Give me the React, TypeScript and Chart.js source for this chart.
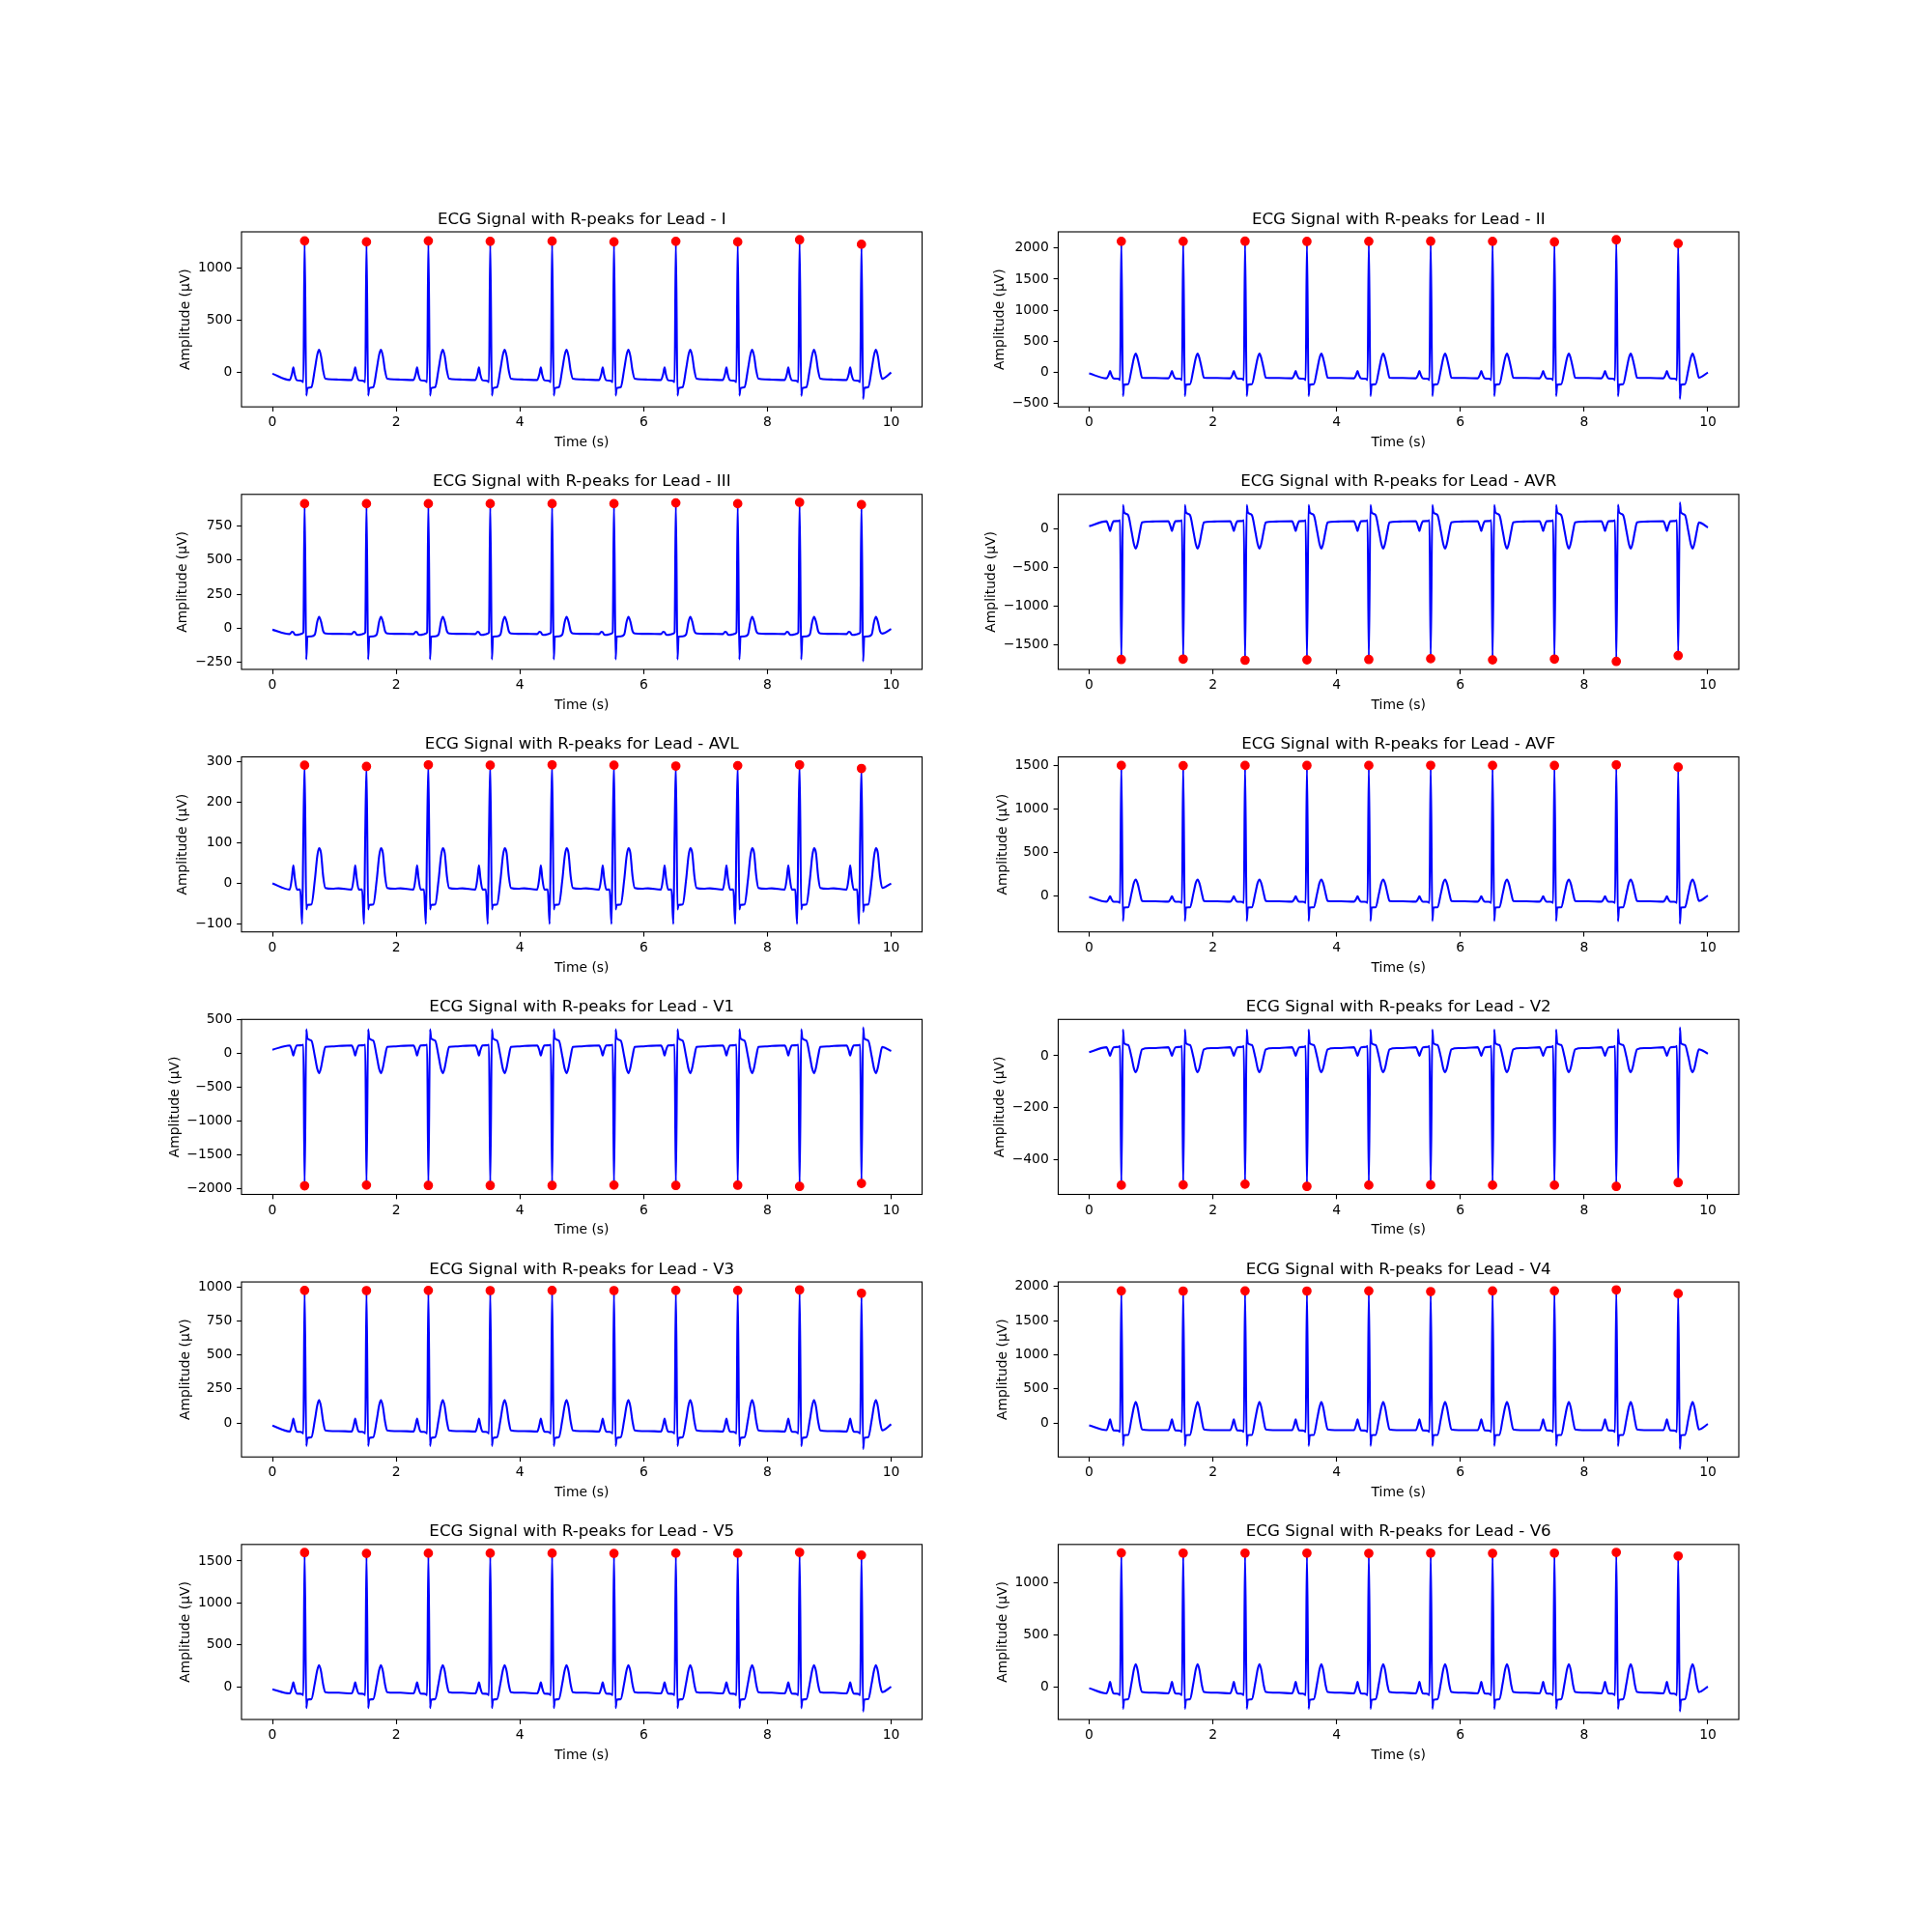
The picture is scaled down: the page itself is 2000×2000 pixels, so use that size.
import React, { useEffect, useRef } from 'react';
import { Chart, registerables } from 'chart.js';

Chart.register(...registerables);

// ---------------- data ----------------
const LEAD_NAMES = ['I', 'II', 'III', 'AVR', 'AVL', 'AVF', 'V1', 'V2', 'V3', 'V4', 'V5', 'V6'];

// R-peak times (s)
const R_TIMES = [0.52, 1.52, 2.52, 3.52, 4.52, 5.52, 6.52, 7.52, 8.52, 9.52];

// key points of one beat, time offsets relative to the R peak (s)
const BEAT_OFFSETS = [-0.45, -0.24, -0.205, -0.182, -0.16, -0.125, -0.07, -0.04, -0.02, 0, 0.027, 0.045, 0.11, 0.165, 0.205, 0.234, 0.265, 0.3, 0.335, 0.45];
const R_INDEX = 9;
const S_INDEX = 10;

// beat shape per lead (µV) at BEAT_OFFSETS; R and S slots come from R_PEAKS / S_WAVES
const BEAT_I = [-68, -72, -15, 48, -20, -74, -78, -82, -92, 0, 0, -150, -140, 30, 170, 217, 156, 17, -60, -66];
const BEAT_II = [-95, -100, -45, 19, -45, -102, -105, -110, -127, 0, 0, -204, -195, 40, 234, 299, 215, 60, -90, -95];
const BEAT_III = [-40, -42, -25, -28, -45, -48, -42, -38, -30, 0, 0, -60, -58, -45, 50, 84, 50, -20, -38, -40];
const BEAT_AVR = [93, 95, 30, -31, 30, 95, 98, 100, 110, 0, 0, 211, 175, -35, -202, -257, -185, -38, 80, 90];
const BEAT_AVL = [-12, -15, 15, 45, 15, -15, -15, -100, 120, 0, 0, -53, -52, 8, 68, 87, 75, 18, -11, -13];
const BEAT_AVF = [-66, -70, -40, -8, -40, -72, -72, -75, -85, 0, 0, -139, -135, 25, 150, 186, 137, 30, -62, -66];
const BEAT_V1 = [110, 118, 45, -30, 45, 118, 120, 122, 130, 0, 0, 223, 190, -40, -230, -292, -210, -40, 95, 105];
const BEAT_V2 = [30, 33, 15, -1, 15, 33, 34, 35, 38, 0, 0, 49, 42, -5, -50, -63, -45, -5, 25, 30];
const BEAT_V3 = [-60, -63, -15, 32, -15, -64, -66, -70, -78, 0, 0, -111, -105, 20, 130, 168, 120, 10, -55, -60];
const BEAT_V4 = [-104, -106, -25, 55, -25, -108, -110, -115, -130, 0, 0, -181, -175, 60, 240, 309, 220, 40, -95, -104];
const BEAT_V5 = [-72, -80, -15, 52, -15, -82, -84, -88, -100, 0, 0, -155, -148, 40, 200, 256, 185, 25, -65, -72];
const BEAT_V6 = [-58, -65, -10, 46, -10, -66, -68, -72, -82, 0, 0, -128, -122, 35, 170, 217, 155, 20, -52, -58];
const BEAT_SHAPES = [BEAT_I, BEAT_II, BEAT_III, BEAT_AVR, BEAT_AVL, BEAT_AVF, BEAT_V1, BEAT_V2, BEAT_V3, BEAT_V4, BEAT_V5, BEAT_V6];

// R-peak amplitudes per beat (µV) — the red dots
const R_I = [1255, 1245, 1255, 1250, 1252, 1245, 1250, 1245, 1265, 1222];
const R_II = [2110, 2110, 2112, 2108, 2110, 2112, 2110, 2100, 2135, 2075];
const R_III = [912, 912, 912, 912, 912, 912, 918, 912, 922, 905];
const R_AVR = [-1690, -1685, -1700, -1695, -1690, -1680, -1695, -1685, -1715, -1640];
const R_AVL = [292, 289, 293, 292, 293, 292, 290, 291, 293, 284];
const R_AVF = [1505, 1503, 1505, 1504, 1505, 1506, 1505, 1504, 1512, 1485];
const R_V1 = [-1960, -1950, -1955, -1955, -1955, -1950, -1955, -1952, -1970, -1925];
const R_V2 = [-500, -499, -496, -505, -500, -499, -500, -500, -505, -490];
const R_V3 = [976, 975, 976, 975, 976, 975, 976, 976, 980, 955];
const R_V4 = [1935, 1933, 1935, 1933, 1935, 1925, 1935, 1935, 1950, 1895];
const R_V5 = [1600, 1590, 1592, 1592, 1592, 1590, 1592, 1592, 1602, 1570];
const R_V6 = [1290, 1288, 1288, 1288, 1286, 1288, 1286, 1288, 1295, 1260];
const R_PEAKS = [R_I, R_II, R_III, R_AVR, R_AVL, R_AVF, R_V1, R_V2, R_V3, R_V4, R_V5, R_V6];

// S-wave amplitudes per beat (µV)
const S_I = [-220, -220, -220, -220, -220, -220, -220, -220, -222, -252];
const S_II = [-386, -386, -386, -386, -386, -386, -386, -386, -388, -432];
const S_III = [-228, -228, -228, -228, -228, -228, -228, -228, -228, -242];
const S_AVR = [306, 306, 306, 306, 306, 306, 306, 306, 308, 340];
const S_AVL = [-64, -64, -64, -64, -64, -64, -64, -64, -64, -70];
const S_AVF = [-295, -295, -295, -295, -295, -295, -295, -295, -297, -328];
const S_V1 = [356, 356, 356, 356, 356, 356, 356, 356, 358, 386];
const S_V2 = [102, 102, 102, 102, 102, 102, 102, 102, 103, 110];
const S_V3 = [-170, -170, -170, -170, -170, -170, -170, -170, -171, -192];
const S_V4 = [-336, -336, -336, -336, -336, -336, -336, -336, -338, -381];
const S_V5 = [-255, -255, -255, -255, -255, -255, -255, -255, -257, -296];
const S_V6 = [-213, -213, -213, -213, -213, -213, -213, -213, -215, -240];
const S_WAVES = [S_I, S_II, S_III, S_AVR, S_AVL, S_AVF, S_V1, S_V2, S_V3, S_V4, S_V5, S_V6];

// first and last sample values (µV)
const SIGNAL_START = [-12, -20, -10, 30, 0, -15, 55, 14, -20, -35, -30, -15];
const SIGNAL_END = [0, -5, -5, 15, 0, 0, 35, 8, -10, -15, 0, 0];
const T_MIN = 0;
const T_MAX = 10;

// tick labels
const X_TICKS = [0, 2, 4, 6, 8, 10];
const Y_TICKS = [
  [0, 500, 1000],
  [-500, 0, 500, 1000, 1500, 2000],
  [-250, 0, 250, 500, 750],
  [-1500, -1000, -500, 0],
  [-100, 0, 100, 200, 300],
  [0, 500, 1000, 1500],
  [-2000, -1500, -1000, -500, 0, 500],
  [-400, -200, 0],
  [0, 250, 500, 750, 1000],
  [0, 500, 1000, 1500, 2000],
  [0, 500, 1000, 1500],
  [0, 500, 1000],
];

const TITLE_PREFIX = 'ECG Signal with R-peaks for Lead - ';
const X_LABEL = 'Time (s)';
const Y_LABEL = 'Amplitude (\u03bcV)';

// ---------------- layout (matplotlib-like geometry) ----------------
const FIG = 2000;
const AX_LEFTS = [250, 1095.4545];
const AX_W = 704.5455;
const AX_TOP0 = 240;
const AX_H = 181.1765;
const ROW_STEP = 271.7647;
const FONT = 'DejaVu Sans';
const TICK_PX = 13.89;
const TITLE_PX = 16.67;
const TICK_LEN = 4.86;

function fmtTick(v: number): string {
  const r = Math.round(v * 1000) / 1000;
  return r < 0 ? '\u2212' + String(Math.abs(r)) : String(r);
}

function buildSignal(li: number) {
  const pts: { x: number; y: number }[] = [{ x: T_MIN, y: SIGNAL_START[li] }];
  const last = R_TIMES.length - 1;
  R_TIMES.forEach((rt, b) => {
    BEAT_OFFSETS.forEach((off, k) => {
      if ((b === 0 && k === 0) || (b === last && k === BEAT_OFFSETS.length - 1)) return;
      const y = k === R_INDEX ? R_PEAKS[li][b] : k === S_INDEX ? S_WAVES[li][b] : BEAT_SHAPES[li][k];
      pts.push({ x: Math.round((rt + off) * 10000) / 10000, y });
    });
  });
  pts.push({ x: T_MAX, y: SIGNAL_END[li] });
  return pts;
}

const decorPlugin = {
  id: 'decor',
  afterDraw(chart: any, _args: any, opts: any) {
    const { ctx, chartArea: a } = chart;
    ctx.save();
    ctx.strokeStyle = '#000';
    ctx.lineWidth = 1.11;
    ctx.strokeRect(a.left, a.top, a.right - a.left, a.bottom - a.top);
    ctx.fillStyle = '#000';
    const cx = (a.left + a.right) / 2;
    ctx.textAlign = 'center';
    ctx.textBaseline = 'alphabetic';
    ctx.font = `${TITLE_PX}px "${FONT}"`;
    ctx.fillText(opts.title, cx, a.top - 8.33);
    ctx.font = `${TICK_PX}px "${FONT}"`;
    ctx.fillText(X_LABEL, cx, a.bottom + 40.9);
    const ys = chart.scales.y;
    let widest = 0;
    ys.ticks.forEach((t: any) => {
      widest = Math.max(widest, ctx.measureText(String(t.label)).width);
    });
    const right = a.left - TICK_LEN - 4.86 - widest - 5.56;
    const baseX = right - 3.28;
    ctx.translate(baseX, (a.top + a.bottom) / 2);
    ctx.rotate(-Math.PI / 2);
    ctx.fillText(Y_LABEL, 0, 0);
    ctx.restore();
  },
};

function EcgPanel({ index }: { index: number }) {
  const ref = useRef<HTMLCanvasElement | null>(null);
  const r = Math.floor(index / 2);
  const c = index % 2;
  const axL = AX_LEFTS[c];
  const axT = AX_TOP0 + r * ROW_STEP;
  const axR = axL + AX_W;
  const axB = axT + AX_H;
  const cl = Math.floor(axL) - 140;
  const ct = Math.floor(axT) - 40;
  const cw = Math.ceil(axR) + 12 - cl;
  const chh = Math.ceil(axB) + 56 - ct;
  const padLeft = axL - cl;
  const padBottom = ct + chh - axB;

  useEffect(() => {
    const signal = buildSignal(index);
    const peaks = R_TIMES.map((t, b) => ({ x: t, y: R_PEAKS[index][b] }));
    const ys = signal.map((p) => p.y);
    const lo = Math.min(...ys);
    const hi = Math.max(...ys);
    const pad = (hi - lo) * 0.05;
    const gridOpts = {
      display: true,
      drawOnChartArea: false,
      drawTicks: true,
      tickLength: TICK_LEN,
      tickWidth: 1.11,
      tickColor: '#000',
      color: '#000',
    };
    const chart = new Chart(ref.current as HTMLCanvasElement, {
      type: 'line',
      data: {
        datasets: [
          {
            label: 'R-peaks',
            data: peaks,
            showLine: false,
            pointRadius: 4.17,
            pointBorderWidth: 1.39,
            pointBackgroundColor: '#ff0000',
            pointBorderColor: '#ff0000',
            order: 0,
          } as any,
          {
            label: 'ECG',
            data: signal,
            borderColor: '#0000ff',
            borderWidth: 2.08,
            pointRadius: 0,
            fill: false,
            cubicInterpolationMode: 'monotone',
            borderJoinStyle: 'round',
            order: 1,
          } as any,
        ],
      },
      options: {
        responsive: false,
        devicePixelRatio: 1,
        animation: false,
        events: [],
        layout: {
          padding: { left: 0, top: axT - ct, right: cl + cw - axR, bottom: 0 },
        },
        plugins: {
          legend: { display: false },
          tooltip: { enabled: false },
          decor: { title: TITLE_PREFIX + LEAD_NAMES[index] },
        } as any,
        scales: {
          x: {
            type: 'linear',
            min: -0.5,
            max: 10.5,
            afterBuildTicks: (s: any) => {
              s.ticks = X_TICKS.map((v) => ({ value: v }));
            },
            afterFit: (s: any) => {
              s.height = padBottom;
            },
            grid: gridOpts,
            border: { display: false },
            ticks: {
              color: '#000',
              font: { family: FONT, size: TICK_PX },
              padding: 3.3,
              maxRotation: 0,
              minRotation: 0,
              autoSkip: false,
              callback: (v: any) => fmtTick(Number(v)),
            },
          },
          y: {
            type: 'linear',
            min: lo - pad,
            max: hi + pad,
            afterBuildTicks: (s: any) => {
              s.ticks = Y_TICKS[index].map((v) => ({ value: v }));
            },
            afterFit: (s: any) => {
              s.width = padLeft;
            },
            grid: gridOpts,
            border: { display: false },
            ticks: {
              color: '#000',
              font: { family: FONT, size: TICK_PX },
              padding: 4.86,
              autoSkip: false,
              callback: (v: any) => fmtTick(Number(v)),
            },
          },
        },
      } as any,
      plugins: [decorPlugin as any],
    });
    return () => chart.destroy();
  }, [index]);

  return (
    <canvas
      ref={ref}
      width={cw}
      height={chh}
      style={{ position: 'absolute', left: cl, top: ct, width: cw, height: chh }}
    />
  );
}

export default function App() {
  return (
    <div style={{ position: 'absolute', left: 0, top: 0, width: FIG, height: FIG, background: '#ffffff', overflow: 'hidden' }}>
      {LEAD_NAMES.map((_, i) => (
        <EcgPanel key={i} index={i} />
      ))}
    </div>
  );
}
